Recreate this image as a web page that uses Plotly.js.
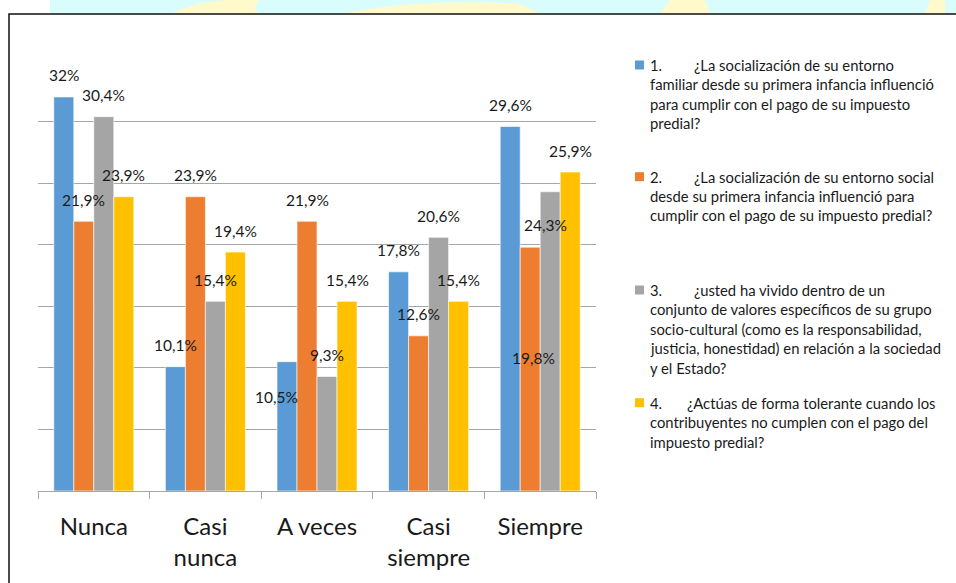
<!DOCTYPE html>
<html>
<head>
<meta charset="utf-8">
<script src="https://cdn.plot.ly/plotly-3.0.1.min.js"></script>
<style>
html,body{margin:0;padding:0;background:#fff;}
#chart{width:956px;height:583px;}
</style>
</head>
<body>
<div id="chart"></div>
<script>
// ---- data ----
const categories = ["Nunca", "Casi<br>nunca", "A veces", "Casi<br>siempre", "Siempre"];
const seriesNames = ["1.", "2.", "3.", "4."];
const serie1 = [32, 10.1, 10.5, 17.8, 29.6];
const serie2 = [21.9, 23.9, 21.9, 12.6, 19.8];
const serie3 = [30.4, 15.4, 9.3, 20.6, 24.3];
const serie4 = [23.9, 19.4, 15.4, 15.4, 25.9];
const legendTexts = [
  ["¿La socialización de su entorno", "familiar desde su primera infancia influenció", "para cumplir con el pago de su impuesto", "predial?"],
  ["¿La socialización de su entorno social", "desde su primera infancia influenció para", "cumplir con el pago de su impuesto predial?"],
  ["¿usted ha vivido dentro de un", "conjunto de valores específicos de su grupo", "socio-cultural (como es la responsabilidad,", "justicia, honestidad) en relación a la sociedad", "y el Estado?"],
  ["¿Actúas de forma tolerante cuando los", "contribuyentes no cumplen con el pago del", "impuesto predial?"]
];

// ---- style ----
const colors = ["#5b9bd5", "#ed7d31", "#a5a5a5", "#ffc000"];
const FONT = "Lato, 'Open Sans', sans-serif";
const W = 956, H = 583;
const plotL = 38, plotR = 596, plotT = 60, plotB = 491;
const allSeries = [serie1, serie2, serie3, serie4];
const barPx = 20;
// manual label nudges (series index, category index) -> [dx, dy] px relative to default
const nudges = {"0-2": [-11, 57], "1-4": [3, 132], "2-4": [-5, 55]};

const traces = allSeries.map((vals, i) => ({
  type: "bar",
  x: categories,
  y: vals,
  name: seriesNames[i],
  marker: {color: colors[i], line: {color: "rgba(255,255,255,0.6)", width: 1}},
  showlegend: false,
  hoverinfo: "skip"
}));

const annotations = [];
const shapes = [];
allSeries.forEach((vals, i) => {
  vals.forEach((v, j) => {
    const n = nudges[i + "-" + j] || [0, 0];
    annotations.push({
      x: categories[j], y: v, xref: "x", yref: "y",
      text: String(v).replace(".", ",") + "%",
      showarrow: false,
      xshift: (i - 1.5) * barPx + n[0],
      yshift: 21.5 - n[1],
      xanchor: "center", yanchor: "middle",
      font: {family: FONT, size: 15.5, color: "#1a1a1a"}
    });
  });
});

// legend drawn as annotations
const LEGSIZE = 14.8;
const legTop = [65, 176.7, 290, 402.7];
const firstLineX = [691.7, 691.7, 691.7, 685];
const lineH = 19.4;
legendTexts.forEach((lines, i) => {
  shapes.push({type: "rect", xref: "paper", yref: "paper",
    x0: (635 - plotL) / (plotR - plotL), x1: (644 - plotL) / (plotR - plotL),
    y0: (plotB - (legTop[i] - 4.5)) / (plotB - plotT), y1: (plotB - (legTop[i] + 4.5)) / (plotB - plotT),
    fillcolor: colors[i], line: {width: 0}});
  annotations.push({xref: "paper", yref: "paper",
    x: (648 - plotL) / (plotR - plotL), y: (plotB - legTop[i]) / (plotB - plotT),
    xanchor: "left", yanchor: "middle", showarrow: false,
    text: seriesNames[i], font: {family: FONT, size: LEGSIZE, color: "#1a1a1a"}});
  lines.forEach((ln, k) => {
    const xp = k === 0 ? firstLineX[i] : 648;
    annotations.push({xref: "paper", yref: "paper",
      x: (xp - plotL) / (plotR - plotL), y: (plotB - (legTop[i] + k * lineH)) / (plotB - plotT),
      xanchor: "left", yanchor: "middle", showarrow: false,
      text: ln, font: {family: FONT, size: LEGSIZE, color: "#1a1a1a"}});
  });
});

// frame and background strip
const px = (x) => (x - plotL) / (plotR - plotL);
const py = (y) => (plotB - y) / (plotB - plotT);
shapes.push({type: "rect", xref: "paper", yref: "paper", layer: "below",
  x0: px(50), x1: px(960), y0: py(0), y1: py(14), fillcolor: "#d9fdfd", line: {width: 0}});
shapes.push({type: "path", xref: "paper", yref: "paper", layer: "below",
  path: `M ${px(170)} ${py(14)} Q ${px(200)} ${py(0)} ${px(230)} ${py(0)} L ${px(260)} ${py(0)} Q ${px(250)} ${py(8)} ${px(260)} ${py(14)} Z`,
  fillcolor: "#fff9cc", line: {width: 0}});
shapes.push({type: "path", xref: "paper", yref: "paper", layer: "below",
  path: `M ${px(340)} ${py(14)} Q ${px(420)} ${py(-2)} ${px(520)} ${py(4)} L ${px(540)} ${py(14)} Z`,
  fillcolor: "#fff9cc", line: {width: 0}});
shapes.push({type: "path", xref: "paper", yref: "paper", layer: "below",
  path: `M ${px(660)} ${py(14)} L ${px(670)} ${py(0)} L ${px(705)} ${py(0)} L ${px(710)} ${py(14)} Z`,
  fillcolor: "#fff9cc", line: {width: 0}});
shapes.push({type: "path", xref: "paper", yref: "paper", layer: "below",
  path: `M ${px(925)} ${py(14)} L ${px(930)} ${py(0)} L ${px(945)} ${py(0)} L ${px(945)} ${py(14)} Z`,
  fillcolor: "#fff9cc", line: {width: 0}});
shapes.push({type: "rect", xref: "paper", yref: "paper", layer: "below",
  x0: px(9), x1: px(1000), y0: py(14), y1: py(600), fillcolor: "#ffffff",
  line: {color: "#111111", width: 1.5}});

const layout = {
  width: W, height: H,
  margin: {l: plotL, r: W - plotR, t: plotT, b: H - plotB, pad: 0},
  paper_bgcolor: "#ffffff", plot_bgcolor: "rgba(0,0,0,0)",
  barmode: "group", bargap: 0.283, bargroupgap: 0,
  font: {family: FONT, color: "#1a1a1a"},
  xaxis: {
    type: "category", showline: true, linecolor: "#a6a6a6", linewidth: 1,
    ticks: "outside", tickson: "boundaries", ticklen: 7, tickcolor: "#a6a6a6",
    tickfont: {family: FONT, size: 24, color: "#1a1a1a"},
    ticklabelstandoff: 14, showgrid: false, fixedrange: true
  },
  yaxis: {
    range: [0, 35], dtick: 5, showticklabels: false, showgrid: true,
    gridcolor: "#a6a6a6", gridwidth: 1, zeroline: false, showline: false,
    fixedrange: true
  },
  shapes: shapes,
  annotations: annotations
};

Plotly.newPlot("chart", traces, layout, {staticPlot: true, displayModeBar: false});
</script>
</body>
</html>
